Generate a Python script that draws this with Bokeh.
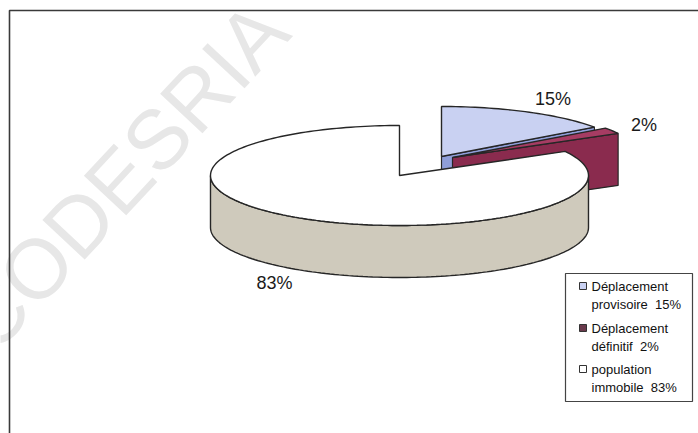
import numpy as np
from bokeh.plotting import figure
from bokeh.models import Range1d
from bokeh.core.properties import value
from bokeh.embed import file_html
from bokeh.resources import INLINE

# ---------------- data ----------------
categories = ["Déplacement provisoire", "Déplacement définitif", "population immobile"]
shares = [15, 2, 83]
pct_labels = ["15%", "2%", "83%"]

# ---------------- style ----------------
W, H = 698, 433
CX, CY = 399.0, 175.0          # pie centre (pixels)
RA, RB = 189.0, 50.0           # ellipse semi-axes of the top face
DEPTH = 52.0                   # thickness of the pie
EXPLODE = [(42, -19), (53, -18), (0, 0)]
TOP_COLORS = ["#c9d1f2", "#a63c63", "#ffffff"]
SIDE_COLORS = ["#8f9ed9", "#8a2b4e", "#cfcabc"]
LEGEND_COLORS = ["#c9d1f2", "#6a3a4c", "#ffffff"]
LABEL_R = [1.3, 1.2, 1.3]
EDGE = "#262626"
FONT = "Liberation Sans"

p = figure(width=W, height=H, x_range=Range1d(0, W), y_range=Range1d(H, 0),
           output_backend="svg", toolbar_location=None, min_border=0,
           background_fill_color="white", border_fill_color="white")
p.axis.visible = False
p.grid.visible = False
p.outline_line_color = None

# faint scan watermark
p.text(x=[122], y=[176], text=["CODESRIA"], angle=np.deg2rad(47),
       text_font=value(FONT), text_font_size="84px", text_color="#e7e7e7",
       text_align="center", text_baseline="middle")

# frame of the chart area
p.line(x=[9, 9, W + 5], y=[H + 5, 10, 10], line_color="#3a3a3a", line_width=1.6)

# ---------------- 3D pie geometry ----------------
total = float(sum(shares))
bounds = np.concatenate([[0.0], np.cumsum(shares) / total * 360.0])


def rim(theta_deg, ox, oy, dz=0.0, r=1.0):
    t = np.deg2rad(np.asarray(theta_deg, dtype=float))
    return CX + ox + r * RA * np.sin(t), CY + oy - r * RB * np.cos(t) + dz


def arc(a0, a1, n=None):
    if n is None:
        n = max(4, int(abs(a1 - a0) / 1.5) + 2)
    return np.linspace(a0, a1, n)


slices = []
for i in range(len(shares)):
    a0, a1 = bounds[i], bounds[i + 1]
    mid = 0.5 * (a0 + a1)
    slices.append((i, a0, a1, mid))

# paint back to front
order = sorted(slices, key=lambda s: -np.cos(np.deg2rad(s[3])))

for i, a0, a1, mid in order:
    ox, oy = EXPLODE[i]
    ax, ay = CX + ox, CY + oy
    # radial faces (only those facing the viewer)
    for ang, nrm in ((a1, a1 + 90), (a0, a0 - 90)):
        if np.cos(np.deg2rad(nrm)) < -1e-6:
            rx, ry = rim(ang, ox, oy)
            p.patch(x=[ax, rx, rx, ax], y=[ay, ry, ry + DEPTH, ay + DEPTH],
                    fill_color=SIDE_COLORS[i], line_color=EDGE, line_width=1.2)
    # outer curved side: front half only (90..270 deg)
    s0, s1 = max(a0, 90.0), min(a1, 270.0)
    if s1 > s0:
        th = arc(s0, s1)
        tx, ty = rim(th, ox, oy)
        bx, by = rim(th[::-1], ox, oy, DEPTH)
        p.patch(x=np.concatenate([tx, bx]), y=np.concatenate([ty, by]),
                fill_color=SIDE_COLORS[i], line_color=EDGE, line_width=1.4)
    # top face
    th = arc(a0, a1)
    tx, ty = rim(th, ox, oy)
    p.patch(x=np.concatenate([[ax], tx, [ax]]), y=np.concatenate([[ay], ty, [ay]]),
            fill_color=TOP_COLORS[i], line_color=EDGE, line_width=1.4)

# percentage labels
for i, a0, a1, mid in slices:
    ox, oy = EXPLODE[i]
    lx, ly = rim(mid, ox, oy, r=LABEL_R[i])
    if np.cos(np.deg2rad(mid)) < 0:
        ly = ly + DEPTH
    p.text(x=[float(lx)], y=[float(ly)], text=[pct_labels[i]], text_font=value(FONT),
           text_font_size="18px", text_color="#1a1a1a", text_align="center",
           text_baseline="middle")

# ---------------- legend ----------------
LX0, LY0, LX1, LY1 = 565, 273, 692, 401
p.quad(left=[LX0], right=[LX1], top=[LY0], bottom=[LY1], fill_color="white",
       line_color="#444444", line_width=1.2)
entry_y = [285.5, 327.5, 368.5]
line_gap = 18
for i, cat in enumerate(categories):
    first, rest = cat.split(" ", 1)
    p.rect(x=[582.5], y=[entry_y[i]], width=7, height=7, fill_color=LEGEND_COLORS[i],
           line_color="#333333", line_width=1)
    p.text(x=[591, 591], y=[entry_y[i], entry_y[i] + line_gap],
           text=[first, rest + "\u00a0\u00a0" + pct_labels[i]], text_font=value(FONT),
           text_font_size="13px", text_color="#111111", text_align="left",
           text_baseline="middle")

open("out.html", "w").write(file_html(p, INLINE))
